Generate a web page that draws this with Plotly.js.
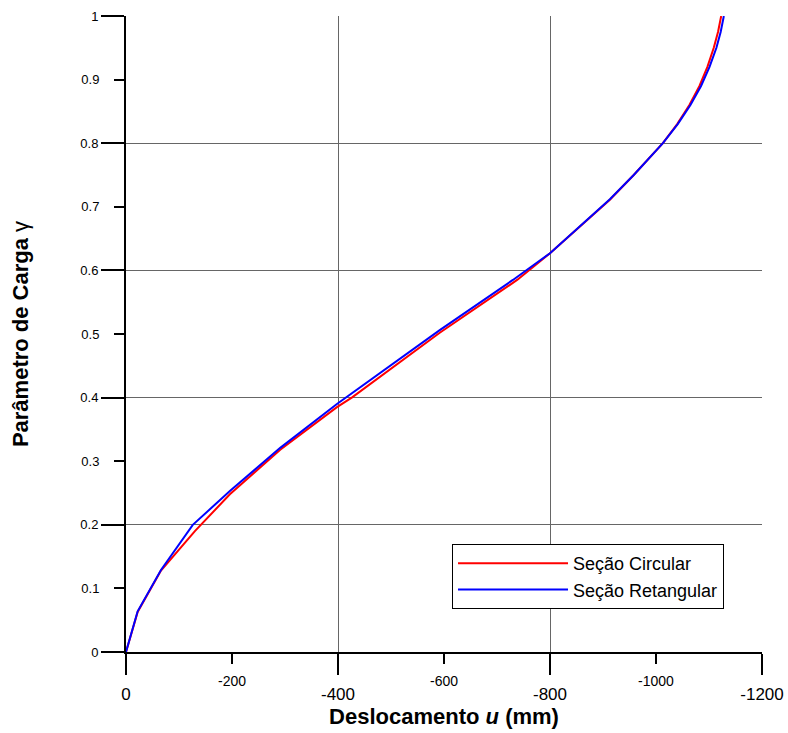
<!DOCTYPE html>
<html>
<head>
<meta charset="utf-8">
<script src="https://cdn.plot.ly/plotly-3.0.1.min.js"></script>
<style>html,body{margin:0;padding:0;background:#fff;}#chart{width:788px;height:733px;}</style>
</head>
<body>
<div id="chart"></div>
<script>
// Seção Circular (red)
const circU = [0, -22, -66, -130, -196, -291, -398, -426, -592, -738, -800, -913, -958, -1013, -1040, -1063, -1082, -1097, -1109, -1117, -1123];
const circG = [0, 0.063, 0.128, 0.19, 0.248, 0.318, 0.385, 0.4, 0.502, 0.585, 0.627, 0.711, 0.75, 0.8, 0.83, 0.86, 0.89, 0.92, 0.95, 0.975, 1.0];
// Seção Retangular (blue)
const retU = [0, -22, -66, -119, -126, -196, -291, -398, -592, -730, -800, -913, -958, -1013, -1041, -1065, -1085, -1101, -1114, -1122, -1128];
const retG = [0, 0.064, 0.129, 0.192, 0.2, 0.253, 0.321, 0.39, 0.506, 0.585, 0.627, 0.712, 0.75, 0.8, 0.83, 0.86, 0.89, 0.92, 0.95, 0.975, 1.0];

const xMajor = [0, -400, -800, -1200];
const xMajorText = ['0', '-400', '-800', '-1200'];
const xMinor = [-200, -600, -1000];
const xMinorText = ['-200', '-600', '-1000'];
const yMajor = [0, 0.2, 0.4, 0.6, 0.8, 1];
const yMajorText = ['0', '0.2', '0.4', '0.6', '0.8', '1'];
const yMinor = [0.1, 0.3, 0.5, 0.7, 0.9];
const yMinorText = ['0.1', '0.3', '0.5', '0.7', '0.9'];

const F = 'Liberation Sans, Arial, Helvetica, sans-serif';

const traces = [
  {x: circU, y: circG, type: 'scatter', mode: 'lines', name: 'Seção Circular',
   line: {color: '#ff0000', width: 2}},
  {x: retU, y: retG, type: 'scatter', mode: 'lines', name: 'Seção Retangular',
   line: {color: '#0000ff', width: 2}},
  {x: [], y: [], type: 'scatter', mode: 'lines', xaxis: 'x2', yaxis: 'y2', showlegend: false, hoverinfo: 'skip'}
];

const layout = {
  width: 788, height: 733,
  margin: {l: 126, r: 26, t: 16, b: 81},
  paper_bgcolor: '#fff', plot_bgcolor: '#fff',
  font: {family: F, color: '#000'},
  showlegend: true,
  legend: {
    x: 0.5126, y: 0.0676, xanchor: 'left', yanchor: 'bottom',
    bgcolor: '#fff', bordercolor: '#000', borderwidth: 1,
    font: {family: F, size: 18, color: '#000'},
    itemwidth: 110
  },
  xaxis: {
    range: [0, -1200], tickmode: 'array', tickvals: xMajor, ticktext: xMajorText,
    ticks: 'outside', ticklen: 21, tickwidth: 2, tickcolor: '#000',
    showline: true, linewidth: 2, linecolor: '#000',
    showgrid: true, gridcolor: '#666', gridwidth: 1, zeroline: false,
    tickfont: {family: F, size: 17, color: '#000'}, ticklabelstandoff: 5,
    title: {text: '<b>Deslocamento <i>u</i> (mm)</b>', font: {family: F, size: 22, color: '#000'}, standoff: 4}
  },
  xaxis2: {
    overlaying: 'x', anchor: 'y', side: 'bottom',
    range: [0, -1200], tickmode: 'array', tickvals: xMinor, ticktext: xMinorText,
    ticks: 'outside', ticklen: 11, tickwidth: 2, tickcolor: '#000',
    showline: false, showgrid: false, zeroline: false,
    tickfont: {family: F, size: 14, color: '#000'}, ticklabelstandoff: 5
  },
  yaxis: {
    range: [0, 1], tickmode: 'array', tickvals: yMajor, ticktext: yMajorText,
    ticks: 'outside', ticklen: 23, tickwidth: 2, tickcolor: '#000',
    showline: true, linewidth: 2, linecolor: '#000',
    showgrid: true, gridcolor: '#666', gridwidth: 1, zeroline: false,
    tickfont: {family: F, size: 13, color: '#000'},
    title: {text: '<b>Parâmetro de Carga</b> γ', font: {family: F, size: 22, color: '#000'}, standoff: 46}
  },
  yaxis2: {
    overlaying: 'y', anchor: 'x', side: 'left',
    range: [0, 1], tickmode: 'array', tickvals: yMinor, ticktext: yMinorText,
    ticks: 'outside', ticklen: 11, tickwidth: 2, tickcolor: '#000',
    showline: false, showgrid: false, zeroline: false,
    tickfont: {family: F, size: 13, color: '#000'}, ticklabelstandoff: 12
  }
};

Plotly.newPlot('chart', traces, layout, {displayModeBar: false, staticPlot: true});
</script>
</body>
</html>
